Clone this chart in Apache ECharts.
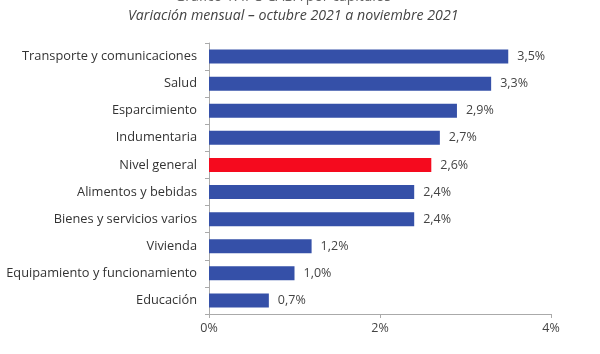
<!DOCTYPE html>
<html>
<head>
<meta charset="utf-8">
<script src="https://cdn.jsdelivr.net/npm/echarts@6/dist/echarts.min.js"></script>
<style>
  html, body { margin: 0; padding: 0; background: #fff; }
  #chart { width: 600px; height: 354px; }
</style>
</head>
<body>
<div id="chart"></div>
<script>
// categorías (de abajo hacia arriba, como las dibuja el eje)
const categories = [
  'Educación',
  'Equipamiento y funcionamiento',
  'Vivienda',
  'Bienes y servicios varios',
  'Alimentos y bebidas',
  'Nivel general',
  'Indumentaria',
  'Esparcimiento',
  'Salud',
  'Transporte y comunicaciones'
]
const values = [0.7, 1.0, 1.2, 2.4, 2.4, 2.6, 2.7, 2.9, 3.3, 3.5]
const highlight = 'Nivel general'

const chart = echarts.init(document.getElementById('chart'))

const option = {
  animation: false,
  textStyle: { fontFamily: '"Open Sans", sans-serif' },
  title: [
    {
      // primera línea del título, cortada arriba en el original
      text: 'Gráfico 1. IPC-CABA por capítulos',
      left: 170,
      top: -15,
      textStyle: { fontSize: 14, fontWeight: 'normal', color: '#666', fontFamily: '"Open Sans", sans-serif' }
    },
    {
      text: 'Variación mensual – octubre 2021 a noviembre 2021',
      left: 123,
      top: 4,
      textStyle: { fontSize: 14.2, fontWeight: 'normal', fontStyle: 'italic', color: '#444', fontFamily: '"Open Sans", sans-serif' }
    }
  ],
  grid: {
    left: 209,
    right: 49,
    top: 43,
    bottom: 40
  },
  xAxis: {
    type: 'value',
    min: 0,
    max: 4,
    interval: 2,
    axisLine: { show: true, lineStyle: { color: '#aaa' } },
    axisTick: { show: true, length: 4, lineStyle: { color: '#aaa' } },
    splitLine: { show: false },
    axisLabel: {
      color: '#444',
      fontSize: 12.5,
      margin: 8,
      formatter: v => v + '%'
    }
  },
  yAxis: {
    type: 'category',
    data: categories,
    axisLine: { show: true, lineStyle: { color: '#aaa' } },
    axisTick: { show: true, length: 4, lineStyle: { color: '#aaa' } },
    axisLabel: { color: '#333', fontSize: 12.8, margin: 12 }
  },
  series: [
    {
      type: 'bar',
      barWidth: 14,
      data: values.map((v, i) => ({
        value: v,
        itemStyle: { color: categories[i] === highlight ? '#F50A1E' : '#3550A8' }
      })),
      label: {
        show: true,
        position: 'right',
        distance: 9,
        color: '#444',
        fontSize: 12.5,
        formatter: p => p.value.toFixed(1).replace('.', ',') + '%'
      }
    }
  ]
}

chart.setOption(option)
</script>
</body>
</html>
